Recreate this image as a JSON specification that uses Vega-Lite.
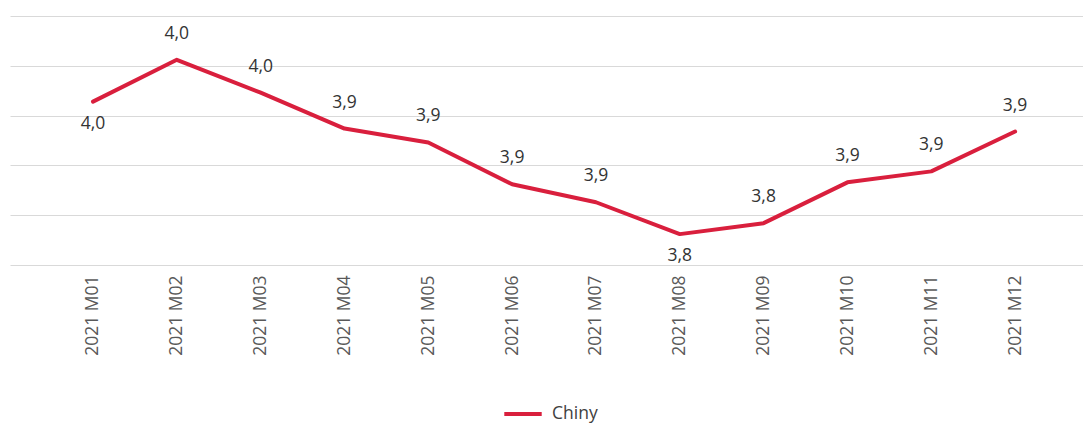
{
  "$schema": "https://vega.github.io/schema/vega-lite/v6.json",
  "autosize": {"type": "none"},
  "padding": {"left": 10, "top": 16, "right": 0, "bottom": 159},
  "width": 1073,
  "height": 249,
  "background": "white",
  "config": {
    "view": {"stroke": null},
    "locale": {"number": {"decimal": ",", "thousands": " ", "grouping": [3], "currency": ["", " zł"]}},
    "font": "Open Sans"
  },
  "data": {
    "values": [
      {"month": "2021 M01", "value": 3.964, "series": "Chiny", "pos": "below"},
      {"month": "2021 M02", "value": 4.006, "series": "Chiny", "pos": "above"},
      {"month": "2021 M03", "value": 3.973, "series": "Chiny", "pos": "above"},
      {"month": "2021 M04", "value": 3.937, "series": "Chiny", "pos": "above"},
      {"month": "2021 M05", "value": 3.923, "series": "Chiny", "pos": "above"},
      {"month": "2021 M06", "value": 3.881, "series": "Chiny", "pos": "above"},
      {"month": "2021 M07", "value": 3.863, "series": "Chiny", "pos": "above"},
      {"month": "2021 M08", "value": 3.831, "series": "Chiny", "pos": "below"},
      {"month": "2021 M09", "value": 3.842, "series": "Chiny", "pos": "above"},
      {"month": "2021 M10", "value": 3.883, "series": "Chiny", "pos": "above"},
      {"month": "2021 M11", "value": 3.894, "series": "Chiny", "pos": "above"},
      {"month": "2021 M12", "value": 3.934, "series": "Chiny", "pos": "above"}
    ]
  },
  "encoding": {
    "x": {
      "field": "month",
      "type": "ordinal",
      "sort": null,
      "scale": {"type": "point", "padding": 0.9, "align": 0.55},
      "axis": {
        "title": null,
        "labelAngle": -90,
        "labelAlign": "right",
        "labelBaseline": "middle",
        "labelPadding": 10,
        "labelFontSize": 17.5,
        "labelColor": "#595959",
        "labelFont": "Open Sans",
        "ticks": false,
        "domain": false,
        "grid": false
      }
    },
    "y": {
      "field": "value",
      "type": "quantitative",
      "scale": {"domain": [3.8, 4.05], "zero": false, "nice": false},
      "axis": {
        "title": null,
        "labels": false,
        "ticks": false,
        "domain": false,
        "values": [3.8, 3.85, 3.9, 3.95, 4.0, 4.05],
        "gridColor": "#d9d9d9",
        "gridWidth": 1
      }
    }
  },
  "layer": [
    {
      "mark": {"type": "line", "strokeWidth": 4, "strokeCap": "round", "strokeJoin": "round"},
      "encoding": {
        "color": {
          "field": "series",
          "type": "nominal",
          "scale": {"range": ["#d91f3d"]},
          "legend": {
            "title": null,
            "orient": "none",
            "legendX": 492,
            "legendY": 377,
            "symbolType": "stroke",
            "symbolStrokeWidth": 4,
            "symbolStrokeColor": "#d91f3d",
            "symbolSize": 1400,
            "labelFontSize": 17.5,
            "labelColor": "#404040",
            "labelOffset": 8
          }
        }
      }
    },
    {
      "transform": [{"filter": "datum.pos == 'above'"}],
      "mark": {"type": "text", "dy": -26, "fontSize": 17.5, "color": "#333333"},
      "encoding": {"text": {"field": "value", "type": "quantitative", "format": ".1f"}}
    },
    {
      "transform": [{"filter": "datum.pos == 'below'"}],
      "mark": {"type": "text", "dy": 22, "fontSize": 17.5, "color": "#333333"},
      "encoding": {"text": {"field": "value", "type": "quantitative", "format": ".1f"}}
    }
  ]
}
